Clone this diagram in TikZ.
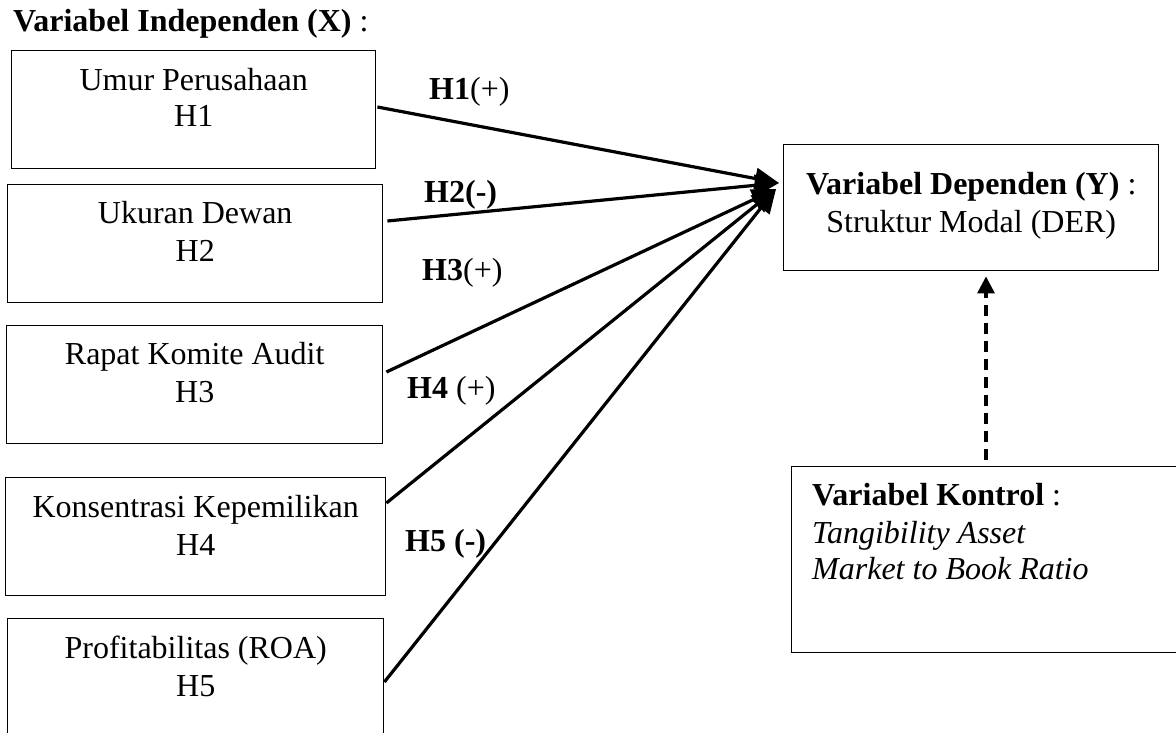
\documentclass[tikz,border=0pt]{standalone}
\usepackage{fontspec}
\setmainfont{Liberation Serif}
\usetikzlibrary{arrows.meta,calc}
\begin{document}
\begin{tikzpicture}[x=1pt,y=-1pt,
  box/.style={draw, line width=1.4pt, inner sep=0pt, anchor=north west},
  txt/.style={font=\fontsize{32}{37}\selectfont, inner sep=0pt, anchor=base},
  lbl/.style={font=\fontsize{32}{37}\selectfont, inner sep=0pt, anchor=base west},
  conn/.style={line width=3.2pt, -{Triangle[length=24pt,width=21pt]}},
  ctrlarrow/.style={line width=3.2pt, dash pattern=on 11pt off 7pt, -{Triangle[length=17pt,width=17pt]}}
]
\useasboundingbox (0,0) rectangle (1176,733);

% title
\node[lbl] (title) at (13,32) {\textbf{Variabel Independen (X)} :};

% independent boxes
\node[box, minimum width=364pt, minimum height=118pt] (b1) at (11,50) {};
\node[box, minimum width=375pt, minimum height=118pt] (b2) at (7,184) {};
\node[box, minimum width=376pt, minimum height=118pt] (b3) at (6,325) {};
\node[box, minimum width=380pt, minimum height=118pt] (b4) at (5,477) {};
\node[box, minimum width=376pt, minimum height=125pt] (b5) at (7,618) {};

\node[txt] (t1a) at ($(b1.north)+(0,41)$) {Umur Perusahaan};
\node[txt] (t1b) at ($(b1.north)+(0,77)$) {H1};
\node[txt] (t2a) at ($(b2.north)+(0,39)$) {Ukuran Dewan};
\node[txt] (t2b) at ($(b2.north)+(0,77)$) {H2};
\node[txt] (t3a) at ($(b3.north)+(0,39)$) {Rapat Komite Audit};
\node[txt] (t3b) at ($(b3.north)+(0,77)$) {H3};
\node[txt] (t4a) at ($(b4.north)+(0,40)$) {Konsentrasi Kepemilikan};
\node[txt] (t4b) at ($(b4.north)+(0,78)$) {H4};
\node[txt] (t5a) at ($(b5.north)+(0,40)$) {Profitabilitas (ROA)};
\node[txt] (t5b) at ($(b5.north)+(0,78)$) {H5};

% dependent box
\node[box, minimum width=375pt, minimum height=126pt] (dep) at (783,144) {};
\node[txt] (da) at ($(dep.north)+(0,50)$) {\textbf{Variabel Dependen (Y)} :};
\node[txt] (db) at ($(dep.north)+(0,88)$) {Struktur Modal (DER)};

% control box
\node[box, minimum width=395pt, minimum height=186pt] (ctl) at (791,466) {};
\node[lbl] (ca) at ($(ctl.north west)+(21,39)$) {\textbf{Variabel Kontrol} :};
\node[lbl] (cb) at ($(ctl.north west)+(21,77)$) {\textit{Tangibility Asset}};
\node[lbl] (cc) at ($(ctl.north west)+(21,113)$) {\textit{Market to Book Ratio}};

% hypothesis labels
\node[lbl] (h1) at (429,100) {\textbf{H1}(+)};
\node[lbl] (h2) at (424,202) {\textbf{H2(-)}};
\node[lbl] (h3) at (422,280) {\textbf{H3}(+)};
\node[lbl] (h4) at (407,398) {\textbf{H4} (+)};
\node[lbl] (h5) at (405,551) {\textbf{H5 (-)}};

% arrows
\coordinate (tipA) at ($(dep.north west)+(-4,39)$);
\coordinate (tipB) at ($(dep.north west)+(-7,45)$);
\draw[conn] ($(b1.north east)+(1,57)$) -- (tipA);
\draw[conn] ($(b2.north east)+(4,37)$) -- (tipA);
\draw[conn] ($(b3.north east)+(3,47)$) -- (tipB);
\draw[conn] ($(b4.north east)+(0,26)$) -- (tipB);
\draw[conn] ($(b5.north east)+(0,64)$) -- (tipB);

% dashed control arrow
\draw[ctrlarrow] ($(ctl.north west)+(195,-6)$) -- ($(dep.south west)+(203,5)$);
\end{tikzpicture}
\end{document}
